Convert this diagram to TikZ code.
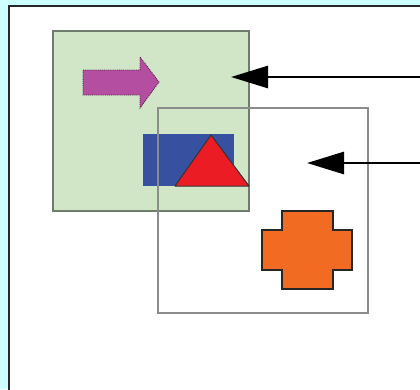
\documentclass[tikz,border=0pt]{standalone}
\usetikzlibrary{arrows.meta}
\definecolor{paneCyan}{RGB}{204,255,255}
\definecolor{layerGreen}{RGB}{208,230,198}
\definecolor{layerEdge}{RGB}{110,124,108}
\definecolor{shapeMagenta}{RGB}{180,78,160}
\definecolor{shapeBlue}{RGB}{55,80,160}
\definecolor{shapeRed}{RGB}{236,28,36}
\definecolor{shapeOrange}{RGB}{242,107,34}
\tikzset{
  panel/.style={fill=white, draw=black!85, line width=2pt},
  layerbg/.style={fill=layerGreen, draw=layerEdge, line width=1.4pt},
  layerfg/.style={draw=black!45, line width=1.4pt},
  sarrow/.style={fill=shapeMagenta, draw=shapeMagenta!45!black, line width=0.9pt, densely dotted},
  sblock/.style={fill=shapeBlue},
  stri/.style={fill=shapeRed, draw=black!80, line width=1pt, line join=round},
  scross/.style={fill=shapeOrange, draw=black!85, line width=1.3pt},
  pointer/.style={-{Triangle[length=37pt, width=22pt]}, line width=2.8pt, black},
}
\begin{document}
\begin{tikzpicture}[x=1pt, y=-1pt]
\useasboundingbox (0,0) rectangle (420,389);
\fill[paneCyan] (0,0) rectangle (420,389);
% panel
\draw[panel] (425,6) -- (9,6) -- (9,394);
\fill[white] (10,7) rectangle (425,394);
% back layer
\draw[layerbg] (53,31) rectangle (249,211);
\draw[sarrow] (83,70) -- (140,70) -- (140,57) -- (159,82) -- (140,108)
  -- (140,95) -- (83,95) -- cycle;
\fill[sblock] (143,134) rectangle (234,186);
\draw[stri] (211,135) -- (249,186) -- (175,186) -- cycle;
% front layer
\draw[layerfg] (158,108) rectangle (368,313);
\draw[scross] (262,230) -- (282,230) -- (282,211) -- (333,211) -- (333,230)
  -- (352,230) -- (352,270) -- (333,270) -- (333,289) -- (282,289)
  -- (282,270) -- (262,270) -- cycle;
% pointers
\coordinate (backTip)  at (231,77);
\coordinate (backEnd)  at (422,77);
\coordinate (frontTip) at (307,163);
\coordinate (frontEnd) at (422,163);
\draw[pointer] (backEnd) -- (backTip);
\draw[pointer] (frontEnd) -- (frontTip);
\end{tikzpicture}
\end{document}
